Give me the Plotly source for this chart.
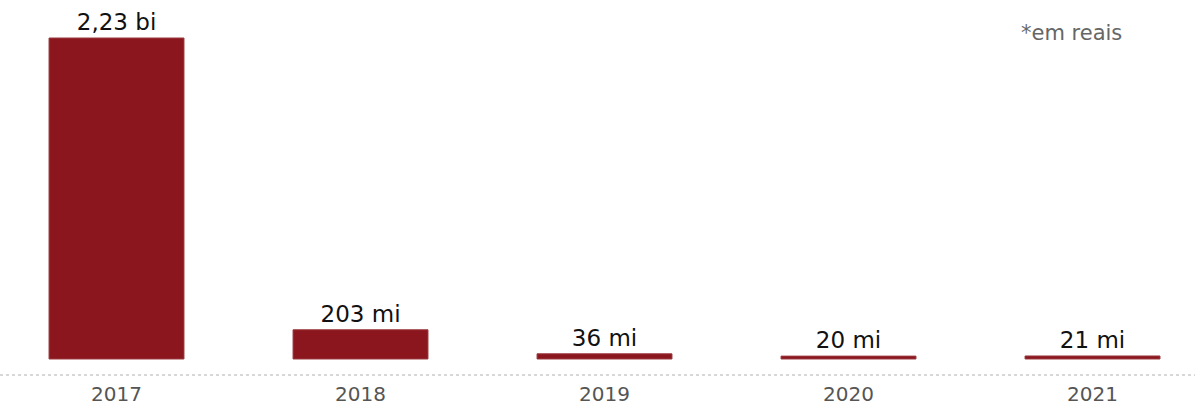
import plotly.graph_objects as go

years = ["2017", "2018", "2019", "2020", "2021"]
values = [2230, 203, 36, 20, 21]  # milhões de reais
labels = ["2,23 bi", "203 mi", "36 mi", "20 mi", "21 mi"]

FONT = "DejaVu Sans, Verdana, sans-serif"

fig = go.Figure()
fig.add_trace(go.Bar(
    x=years,
    y=values,
    text=labels,
    textposition="outside",
    textfont=dict(family=FONT, size=23, color="#111111"),
    marker=dict(color="#8B161D", line=dict(color="#9a3a3f", width=1)),
    cliponaxis=False,
    width=0.553,
    hoverinfo="skip",
))

fig.add_shape(type="line", xref="paper", yref="paper", x0=0, x1=1, y0=0, y1=0,
              line=dict(color="#b0b0b0", width=1, dash="dot"))

fig.add_annotation(text="*em reais", xref="paper", yref="paper",
                   x=0.897, y=0.912, xanchor="center", yanchor="middle",
                   showarrow=False,
                   font=dict(family=FONT, size=21, color="#666666"))

fig.update_layout(
    width=1195, height=406,
    margin=dict(l=0, r=0, t=0, b=31),
    paper_bgcolor="white", plot_bgcolor="white",
    showlegend=False,
    xaxis=dict(type="category", range=[-0.4775, 4.42], showgrid=False, zeroline=False,
               showline=False, ticks="", ticklen=0, ticklabelstandoff=5,
               automargin=False,
               tickfont=dict(family=FONT, size=20, color="#555555")),
    yaxis=dict(range=[-111.2, 2494], visible=False, showgrid=False, zeroline=False,
               automargin=False),
    uniformtext=dict(mode=False),
)

fig.write_html("out.html",
               config={"displayModeBar": False},
               post_script="document.body.style.margin='0';document.body.style.padding='0';")
